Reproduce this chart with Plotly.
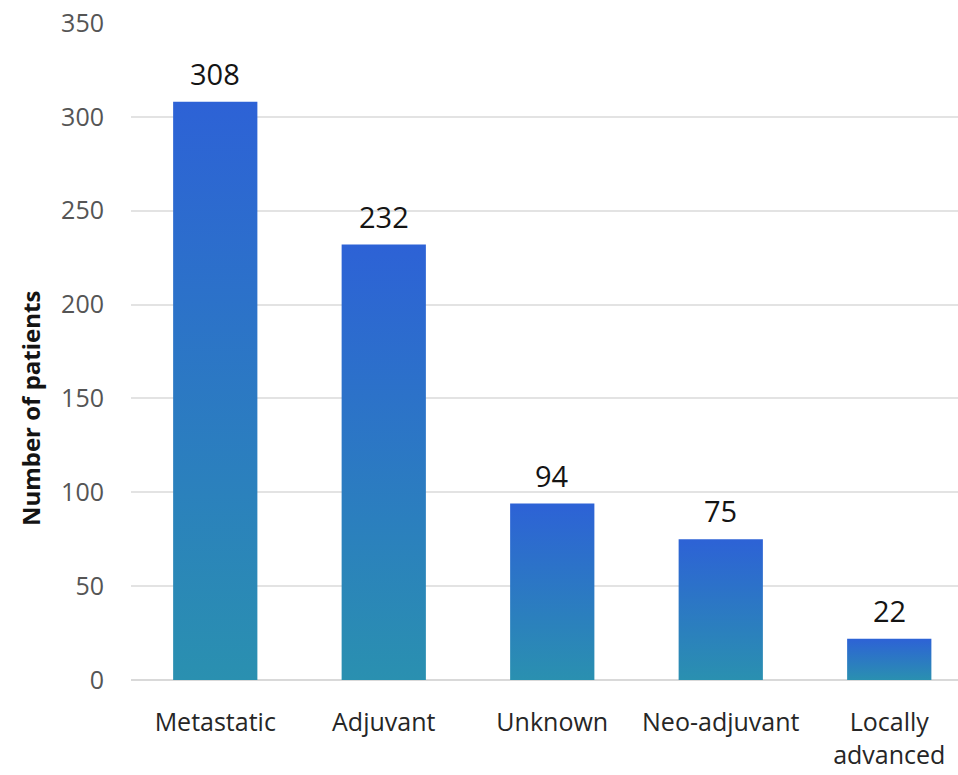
import plotly.graph_objects as go

# Treatment setting of patients
categories = ["Metastatic", "Adjuvant", "Unknown", "Neo-adjuvant", "Locally<br>advanced"]
patients = [308, 232, 94, 75, 22]
y_ticks = [0, 50, 100, 150, 200, 250, 300, 350]
y_title = "Number of patients"

BAR_WIDTH = 0.5
TOP_COLOR = "#2D62D6"
BOTTOM_COLOR = "#2A90B0"
FONT = "Open Sans"

fig = go.Figure()

# Each bar is a filled rectangle with its own vertical gradient (teal at base, blue at top)
for i, v in enumerate(patients):
    x0, x1 = i - BAR_WIDTH / 2, i + BAR_WIDTH / 2
    fig.add_trace(go.Scatter(
        x=[x0, x1, x1, x0, x0],
        y=[0, 0, v, v, 0],
        mode="lines",
        line=dict(width=0, color=TOP_COLOR),
        fill="toself",
        fillgradient=dict(
            type="vertical",
            colorscale=[[0, BOTTOM_COLOR], [1, TOP_COLOR]],
        ),
        hoverinfo="skip",
        showlegend=False,
    ))
    fig.add_annotation(
        x=i, y=v, text=str(v), showarrow=False,
        yanchor="bottom", yshift=7,
        font=dict(family=FONT, size=29, color="#141414"),
    )

# Y-axis title, set slightly below the vertical centre of the plot
fig.add_annotation(
    text=f"<b>{y_title}</b>", textangle=-90,
    xref="paper", yref="paper", x=-0.122, y=0.414,
    xanchor="center", yanchor="middle", showarrow=False,
    font=dict(family=FONT, size=24, color="#141414"),
)

fig.update_layout(
    width=958, height=775,
    margin=dict(l=131, r=0, t=23, b=95),
    paper_bgcolor="white",
    plot_bgcolor="white",
    showlegend=False,
    xaxis=dict(
        range=[-0.5, 4.408],
        tickmode="array",
        tickvals=list(range(len(categories))),
        ticktext=categories,
        showgrid=False,
        zeroline=False,
        showline=False,
        ticks="",
        ticklabelstandoff=25,
        tickfont=dict(family=FONT, size=25, color="#262626"),
    ),
    yaxis=dict(
        range=[0, 350],
        tickmode="array",
        tickvals=y_ticks,
        showgrid=True,
        gridcolor="#e3e3e3",
        gridwidth=1.5,
        zeroline=True,
        zerolinecolor="#d9d9d9",
        zerolinewidth=1.5,
        showline=False,
        ticks="",
        ticklabelstandoff=26,
        tickfont=dict(family=FONT, size=25, color="#555555"),
    ),
)

fig.write_html("out.html")
